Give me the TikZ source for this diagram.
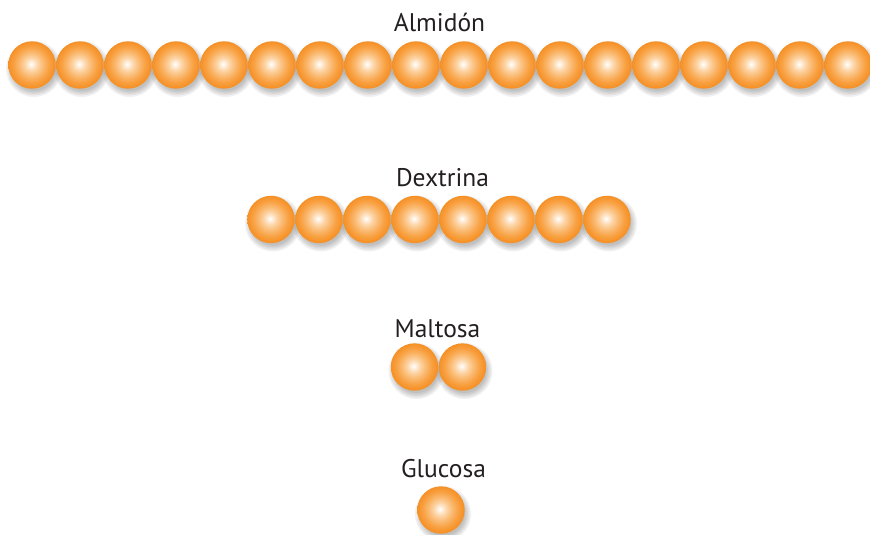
\documentclass[tikz,border=0pt]{standalone}
\usepackage{fontspec}
\setmainfont{PT Sans}
\definecolor{txt}{RGB}{35,31,32}
\definecolor{orA}{RGB}{245,143,35}
\definecolor{orB}{RGB}{248,160,65}
\definecolor{orC}{RGB}{250,184,110}
\definecolor{orD}{RGB}{252,212,165}
\definecolor{orE}{RGB}{255,242,228}
\pgfdeclareradialshading{spheresh}{\pgfpoint{-1bp}{1bp}}{%
  color(0bp)=(white); color(2bp)=(orE); color(7bp)=(orD);
  color(13bp)=(orC); color(19bp)=(orB); color(25bp)=(orA); color(50bp)=(orA)}
\newcommand\sphshadow[2]{%
  \foreach \rr in {28,26.5,25,23.5,22}{%
    \fill[black,opacity=0.055] ({#1+2},{#2+4}) circle[radius=\rr pt];}}
\begin{document}
\begin{tikzpicture}[x=1pt,y=-1pt,
  sphere/.style={circle, minimum size=47.4pt, inner sep=0pt, shading=spheresh},
  lbl/.style={anchor=base, font=\fontsize{25.5}{30}\selectfont, text=txt}]
\useasboundingbox (0,0) rectangle (870,535);
% shadows
\foreach \i in {0,...,17}{\sphshadow{32+48*\i}{65}}
\foreach \i in {0,...,7}{\sphshadow{271+48*\i}{219.5}}
\sphshadow{414.5}{367}\sphshadow{462.5}{367}
\sphshadow{441}{510}
% spheres
\foreach \i [evaluate=\i as \xx using 32+48*\i] in {0,...,17}{\node[sphere] (a\i) at (\xx,65) {};}
\foreach \i [evaluate=\i as \xx using 271+48*\i] in {0,...,7}{\node[sphere] (d\i) at (\xx,219.5) {};}
\node[sphere] (m1) at (414.5,367) {};
\node[sphere] (m2) at (462.5,367) {};
\node[sphere] (g1) at (441,510) {};
% labels
\node[lbl] (lA) at (439.5,32) {Almidón};
\node[lbl] (lD) at (442.5,186) {Dextrina};
\node[lbl] (lM) at (437.5,337) {Maltosa};
\node[lbl] (lG) at (443.5,477) {Glucosa};
\end{tikzpicture}
\end{document}
